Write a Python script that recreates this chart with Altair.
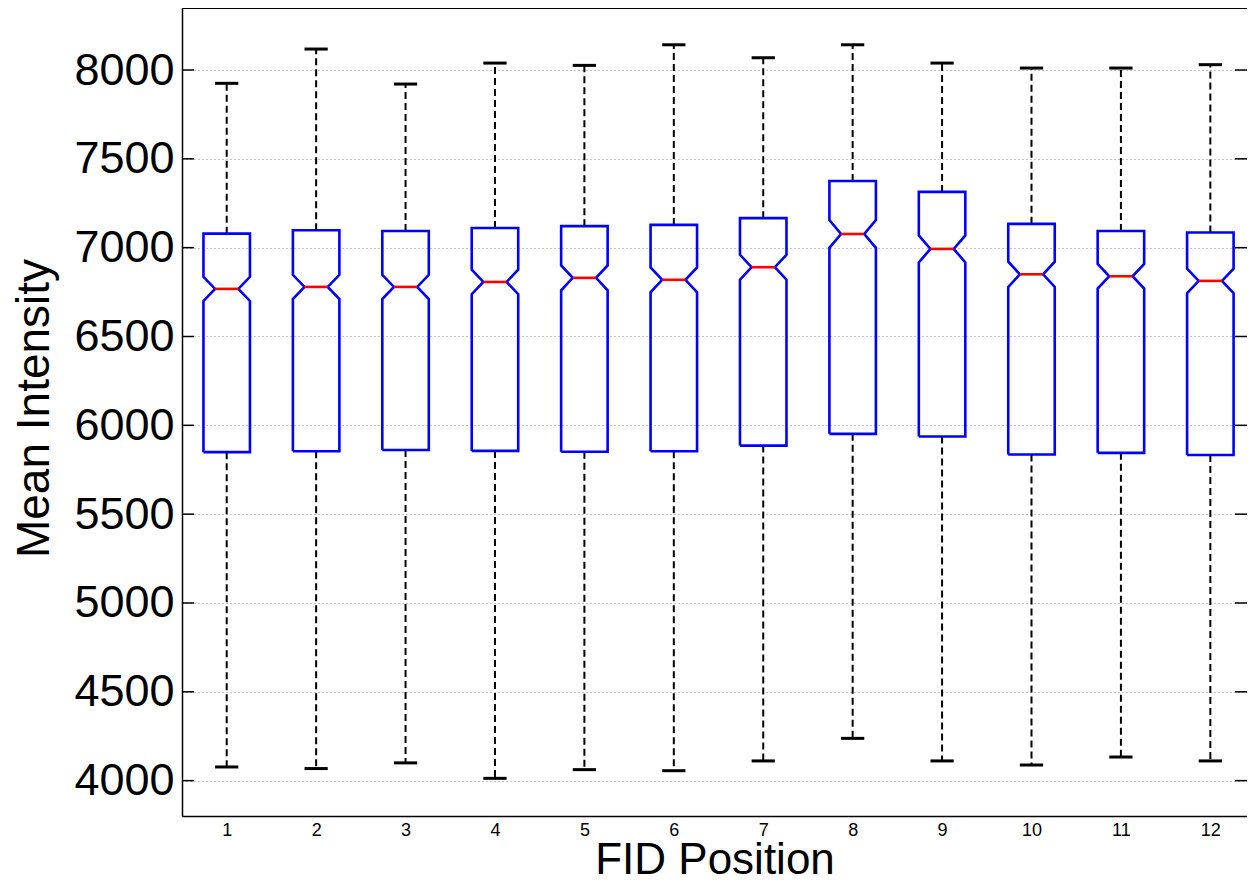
import altair as alt
import pandas as pd

# ---- data ----
positions = [1, 2, 3, 4, 5, 6, 7, 8, 9, 10, 11, 12]
q1 = [5849, 5854, 5861, 5856, 5851, 5854, 5886, 5952, 5937, 5836, 5845, 5833]
q3 = [7079, 7098, 7094, 7111, 7121, 7128, 7166, 7375, 7314, 7134, 7094, 7085]
median = [6768, 6779, 6779, 6807, 6830, 6819, 6890, 7077, 6993, 6850, 6839, 6813]
notch_lo = [6700, 6711, 6711, 6738, 6760, 6749, 6820, 6999, 6917, 6779, 6770, 6744]
notch_hi = [6836, 6847, 6847, 6876, 6900, 6889, 6960, 7155, 7069, 6921, 6908, 6882]
whisker_lo = [4077, 4068, 4100, 4013, 4062, 4056, 4111, 4238, 4111, 4088, 4133, 4111]
whisker_hi = [7925, 8118, 7921, 8039, 8026, 8142, 8069, 8142, 8039, 8011, 8011, 8030]
y_ticks = [4000, 4500, 5000, 5500, 6000, 6500, 7000, 7500, 8000]

W = 1065
H = 808
HW = 0.26   # box half width (x units)
NW = 0.13   # notch half width
CW = 0.13   # cap half width
FONT = "Liberation Sans"

# ---- tables built from the arrays ----
poly_rows = []
for i, p in enumerate(positions):
    verts = [(p - HW, q1[i]), (p - HW, notch_lo[i]), (p - NW, median[i]),
             (p - HW, notch_hi[i]), (p - HW, q3[i]), (p + HW, q3[i]),
             (p + HW, notch_hi[i]), (p + NW, median[i]), (p + HW, notch_lo[i]),
             (p + HW, q1[i]), (p - HW, q1[i])]
    for k, (vx, vy) in enumerate(verts):
        poly_rows.append({"box": p, "seq": k, "x": vx, "y": vy})
poly_df = pd.DataFrame(poly_rows)

whisk_df = pd.DataFrame(
    [{"pos": p, "y": q3[i], "y2": whisker_hi[i]} for i, p in enumerate(positions)] +
    [{"pos": p, "y": q1[i], "y2": whisker_lo[i]} for i, p in enumerate(positions)]
)
cap_df = pd.DataFrame(
    [{"xa": p - CW, "xb": p + CW, "y": whisker_hi[i]} for i, p in enumerate(positions)] +
    [{"xa": p - CW, "xb": p + CW, "y": whisker_lo[i]} for i, p in enumerate(positions)]
)
med_df = pd.DataFrame([{"xa": p - NW, "xb": p + NW, "y": median[i]} for i, p in enumerate(positions)])
tick_df = pd.DataFrame({"v": y_ticks})

xscale = alt.Scale(domain=[0.5, 12.41], nice=False, zero=False)
yscale = alt.Scale(domain=[3801, 8349], nice=False, zero=False)

xaxis = alt.Axis(values=positions, format="d", ticks=False, grid=False,
                 labelFontSize=18, labelFont=FONT, labelColor="black", labelPadding=5,
                 domainColor="black", domainWidth=1.5,
                 title="FID Position", titleFont=FONT, titleFontSize=44,
                 titleFontWeight="normal", titleColor="black",
                 titleBaseline="bottom", titleY=66)
yaxis = alt.Axis(values=y_ticks, format="d", ticks=False, grid=True,
                 gridDash=[1, 3], gridColor="#888888", gridWidth=1,
                 labelFontSize=45, labelFont=FONT, labelColor="black", labelPadding=8,
                 domainColor="black", domainWidth=1.5,
                 title="Mean Intensity", titleFont=FONT, titleFontSize=46,
                 titleFontWeight="normal", titleColor="black",
                 titleBaseline="alphabetic", titleAlign="center",
                 titleX=-134, titleY=400, titleAngle=270)

whiskers = alt.Chart(whisk_df).mark_rule(color="black", strokeWidth=2, strokeDash=[7, 4]).encode(
    x=alt.X("pos:Q", scale=xscale, axis=xaxis),
    y=alt.Y("y:Q", scale=yscale, axis=yaxis),
    y2="y2:Q",
)
caps = alt.Chart(cap_df).mark_rule(color="black", strokeWidth=3).encode(
    x=alt.X("xa:Q", scale=xscale, axis=xaxis),
    x2="xb:Q",
    y=alt.Y("y:Q", scale=yscale, axis=yaxis),
)
boxes = alt.Chart(poly_df).mark_line(color="#0000ff", strokeWidth=2.6, strokeJoin="miter").encode(
    x=alt.X("x:Q", scale=xscale, axis=xaxis),
    y=alt.Y("y:Q", scale=yscale, axis=yaxis),
    detail="box:N",
    order="seq:Q",
)
medians = alt.Chart(med_df).mark_rule(color="#ff0000", strokeWidth=2.6).encode(
    x=alt.X("xa:Q", scale=xscale, axis=xaxis),
    x2="xb:Q",
    y=alt.Y("y:Q", scale=yscale, axis=yaxis),
)
ticks_left = alt.Chart(tick_df).mark_rule(color="black", strokeWidth=1.5).encode(
    y=alt.Y("v:Q", scale=yscale, axis=yaxis),
    x=alt.value(0), x2=alt.value(12),
)
ticks_right = alt.Chart(tick_df).mark_rule(color="black", strokeWidth=1.5).encode(
    y=alt.Y("v:Q", scale=yscale, axis=yaxis),
    x=alt.value(W - 12), x2=alt.value(W),
)
top_frame = alt.Chart(tick_df).mark_rule(color="black", strokeWidth=2).encode(
    x=alt.value(0), x2=alt.value(W), y=alt.value(0),
)

chart = alt.layer(
    whiskers, caps, boxes, medians, ticks_left, ticks_right, top_frame
).properties(
    width=W, height=H,
    padding={"left": 174, "top": 0, "right": 0, "bottom": 66},
    autosize=alt.AutoSizeParams(type="none"),
).configure_view(stroke=None).configure(background="white")

chart.save("out.html", embed_options={"renderer": "svg", "actions": False})
